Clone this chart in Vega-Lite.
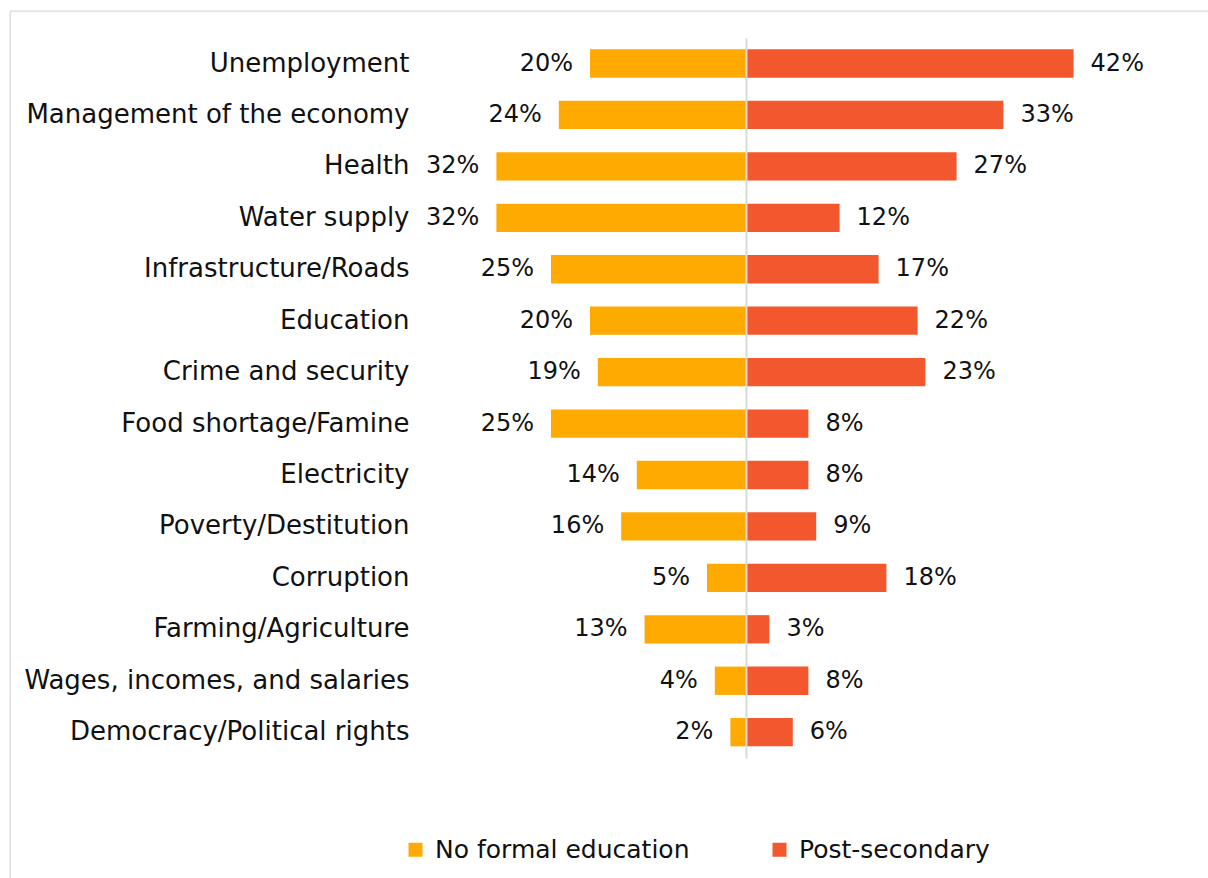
{
  "$schema": "https://vega.github.io/schema/vega-lite/v6.json",
  "autosize": {"type": "none"},
  "width": 1200,
  "height": 870,
  "padding": {"left": 10, "top": 11, "right": -2, "bottom": -3},
  "background": "#ffffff",
  "config": {
    "view": {"stroke": "#d9d9d9", "strokeWidth": 1.3},
    "font": "DejaVu Sans"
  },
  "data": {
    "values": [
      {"category": "Unemployment", "group": "No formal education", "value": 0.20},
      {"category": "Unemployment", "group": "Post-secondary", "value": 0.42},
      {"category": "Management of the economy", "group": "No formal education", "value": 0.24},
      {"category": "Management of the economy", "group": "Post-secondary", "value": 0.33},
      {"category": "Health", "group": "No formal education", "value": 0.32},
      {"category": "Health", "group": "Post-secondary", "value": 0.27},
      {"category": "Water supply", "group": "No formal education", "value": 0.32},
      {"category": "Water supply", "group": "Post-secondary", "value": 0.12},
      {"category": "Infrastructure/Roads", "group": "No formal education", "value": 0.25},
      {"category": "Infrastructure/Roads", "group": "Post-secondary", "value": 0.17},
      {"category": "Education", "group": "No formal education", "value": 0.20},
      {"category": "Education", "group": "Post-secondary", "value": 0.22},
      {"category": "Crime and security", "group": "No formal education", "value": 0.19},
      {"category": "Crime and security", "group": "Post-secondary", "value": 0.23},
      {"category": "Food shortage/Famine", "group": "No formal education", "value": 0.25},
      {"category": "Food shortage/Famine", "group": "Post-secondary", "value": 0.08},
      {"category": "Electricity", "group": "No formal education", "value": 0.14},
      {"category": "Electricity", "group": "Post-secondary", "value": 0.08},
      {"category": "Poverty/Destitution", "group": "No formal education", "value": 0.16},
      {"category": "Poverty/Destitution", "group": "Post-secondary", "value": 0.09},
      {"category": "Corruption", "group": "No formal education", "value": 0.05},
      {"category": "Corruption", "group": "Post-secondary", "value": 0.18},
      {"category": "Farming/Agriculture", "group": "No formal education", "value": 0.13},
      {"category": "Farming/Agriculture", "group": "Post-secondary", "value": 0.03},
      {"category": "Wages, incomes, and salaries", "group": "No formal education", "value": 0.04},
      {"category": "Wages, incomes, and salaries", "group": "Post-secondary", "value": 0.08},
      {"category": "Democracy/Political rights", "group": "No formal education", "value": 0.02},
      {"category": "Democracy/Political rights", "group": "Post-secondary", "value": 0.06}
    ]
  },
  "encoding": {
    "y": {
      "field": "category",
      "type": "nominal",
      "sort": null,
      "scale": {"range": [26.8, 746.9], "paddingInner": 0.45, "paddingOuter": 0.225},
      "axis": {
        "title": null,
        "orient": "left",
        "offset": -736,
        "ticks": false,
        "tickSize": 0,
        "labelPadding": 337,
        "labelFontSize": 26,
        "labelFont": "DejaVu Sans",
        "labelColor": "#111111",
        "labelLimit": 600,
        "domainColor": "#d9d9d9",
        "domainWidth": 2,
        "zindex": 1
      }
    }
  },
  "layer": [
    {
      "transform": [{"filter": "datum.group === 'No formal education'"}],
      "mark": {"type": "bar"},
      "encoding": {
        "x": {"field": "value", "type": "quantitative", "scale": {"domain": [-0.594872, 0.943590], "reverse": true, "zero": false, "nice": false}, "axis": null},
        "x2": {"datum": 0},
        "color": {
          "field": "group",
          "type": "nominal",
          "scale": {"domain": ["No formal education", "Post-secondary"], "range": ["#FFAA00", "#F2572D"]},
          "legend": {
            "title": null,
            "orient": "none",
            "direction": "horizontal",
            "legendX": 393,
            "legendY": 826,
            "padding": 0,
            "symbolType": "square",
            "symbolSize": 196,
            "symbolStrokeWidth": 0,
            "labelFontSize": 25,
            "labelFont": "DejaVu Sans",
            "labelColor": "#111111",
            "labelLimit": 600,
            "labelOffset": 7,
            "columnPadding": 77
          }
        }
      }
    },
    {
      "transform": [{"filter": "datum.group === 'No formal education'"}],
      "mark": {"type": "text", "align": "right", "baseline": "middle", "dx": -17, "fontSize": 24, "color": "#111111"},
      "encoding": {
        "x": {"field": "value", "type": "quantitative", "scale": {"domain": [-0.594872, 0.943590], "reverse": true, "zero": false, "nice": false}, "axis": null},
        "text": {"field": "value", "type": "quantitative", "format": ".0%"}
      }
    },
    {
      "transform": [{"filter": "datum.group === 'Post-secondary'"}],
      "mark": {"type": "bar"},
      "encoding": {
        "x": {"field": "value", "type": "quantitative", "scale": {"domain": [-0.943590, 0.594872], "zero": false, "nice": false}, "axis": null},
        "x2": {"datum": 0},
        "color": {"field": "group", "type": "nominal"}
      }
    },
    {
      "transform": [{"filter": "datum.group === 'Post-secondary'"}],
      "mark": {"type": "text", "align": "left", "baseline": "middle", "dx": 17, "fontSize": 24, "color": "#111111"},
      "encoding": {
        "x": {"field": "value", "type": "quantitative", "scale": {"domain": [-0.943590, 0.594872], "zero": false, "nice": false}, "axis": null},
        "text": {"field": "value", "type": "quantitative", "format": ".0%"}
      }
    }
  ],
  "resolve": {"scale": {"x": "independent"}}
}
